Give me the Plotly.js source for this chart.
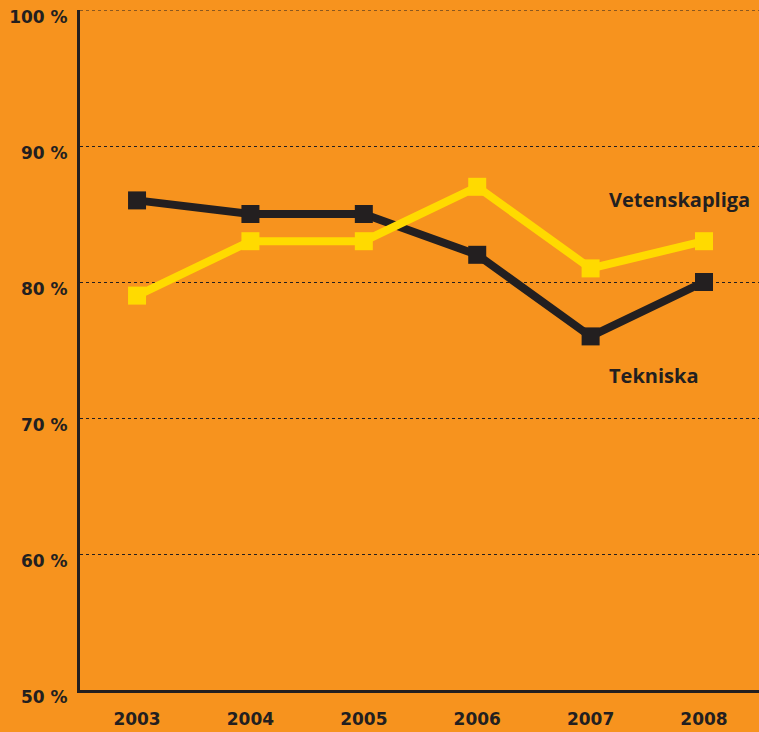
<!DOCTYPE html>
<html>
<head>
<meta charset="utf-8">
<script src="https://cdn.plot.ly/plotly-3.0.1.min.js"></script>
<style>html,body{margin:0;padding:0;background:#F7931E;}#chart{width:759px;height:732px;}</style>
</head>
<body>
<div id="chart"></div>
<script>
const years = [2003, 2004, 2005, 2006, 2007, 2008];
const yearLabels = ['2003', '2004', '2005', '2006', '2007', '2008'];
const tekniska = [86, 85, 85, 82, 76, 80];
const vetenskapliga = [79, 83, 83, 87, 81, 83];
const yTicks = [50, 60, 70, 80, 90, 100];
const yTickLabels = ['50 %', '60 %', '70 %', '80 %', '90 %', '100 %'];

const dark = '#231F20';
const yellow = '#FFDA00';
const orange = '#F7931E';

const traces = [
  {x: years, y: tekniska, name: 'Tekniska', mode: 'lines+markers', type: 'scatter',
   line: {color: dark, width: 8}, marker: {symbol: 'square', size: 18, color: dark}, cliponaxis: false},
  {x: years, y: vetenskapliga, name: 'Vetenskapliga', mode: 'lines+markers', type: 'scatter',
   line: {color: yellow, width: 8}, marker: {symbol: 'square', size: 18, color: yellow}, cliponaxis: false}
];

const tickFont = {family: '"DejaVu Sans", sans-serif', size: 17, color: dark, weight: 700};

const layout = {
  width: 759, height: 732,
  paper_bgcolor: orange, plot_bgcolor: orange,
  margin: {l: 80, r: 0, t: 10, b: 42},
  showlegend: false,
  xaxis: {range: [2002.497, 2008.485], tickvals: years, ticktext: yearLabels, showgrid: false, zeroline: false,
    showline: true, linecolor: dark, linewidth: 3, ticks: '', tickfont: tickFont, ticklabelstandoff: 12},
  yaxis: {range: [50, 100], tickvals: yTicks, ticktext: yTickLabels, showgrid: true, gridcolor: dark, gridwidth: 1,
    griddash: 'dot', zeroline: false, showline: true, linecolor: dark, linewidth: 3, ticks: '', tickfont: tickFont,
    ticklabelstandoff: 6, ticklabelshift: 7},
  shapes: [
    {type: 'line', xref: 'paper', yref: 'y', x0: 0, x1: 1, y0: 100, y1: 100,
     line: {color: dark, width: 1, dash: 'dot'}, layer: 'below'}
  ],
  annotations: [
    {x: 2007.145, y: 86.03, xref: 'x', yref: 'y', xanchor: 'left', yanchor: 'middle', showarrow: false,
     text: 'Vetenskapliga', font: {family: '"Open Sans", sans-serif', size: 20, color: dark, weight: 700}},
    {x: 2007.145, y: 73.16, xref: 'x', yref: 'y', xanchor: 'left', yanchor: 'middle', showarrow: false,
     text: 'Tekniska', font: {family: '"Open Sans", sans-serif', size: 20, color: dark, weight: 700}}
  ]
};

Plotly.newPlot('chart', traces, layout, {displayModeBar: false, staticPlot: true});
</script>
</body>
</html>
